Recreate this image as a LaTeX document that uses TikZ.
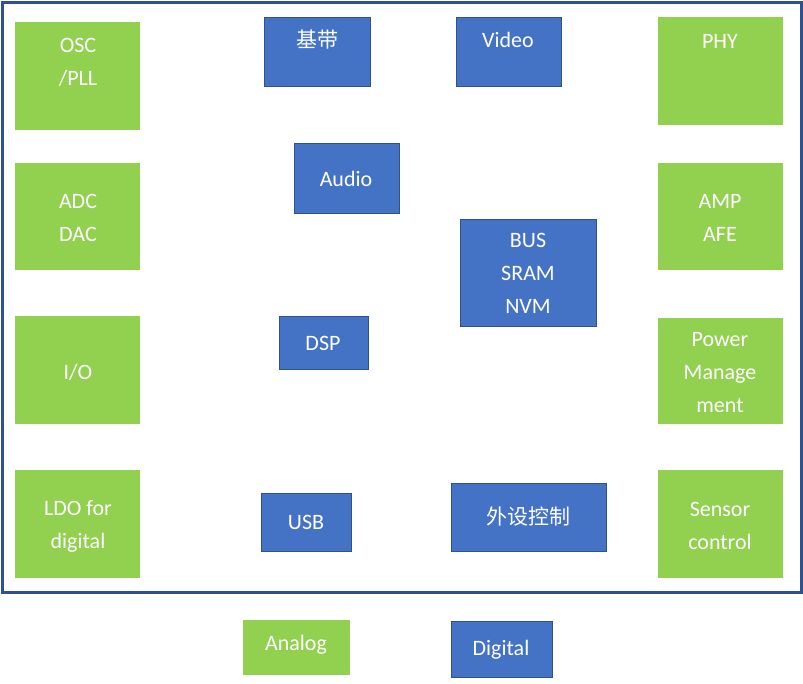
\documentclass[tikz,border=0pt]{standalone}
\usepackage{fontspec}
\setmainfont{Carlito}
\newfontfamily\cjk{Noto Sans CJK SC}
\definecolor{gr}{HTML}{92D050}
\definecolor{bl}{HTML}{4472C4}
\definecolor{bd}{HTML}{2F528F}
\begin{document}
\begin{tikzpicture}[x=1pt,y=-1pt,
  t/.style={text=white,font=\fontsize{22}{33}\selectfont,align=center},
  g/.style={fill=gr,draw=none},
  b/.style={fill=bl,draw=bd,line width=1pt}]
\useasboundingbox (0,0) rectangle (803,683);
\draw[bd,line width=3pt] (2,2) rectangle (801,592);
\newcommand{\bx}[7]{\path[#1] (#3,#4) rectangle (#5,#6); \node[t] (#2) at ({(#3+#5)/2},#7) {#2X};}
% green
\path[g] (15,22) rectangle (140,130); \node[t] (osc) at (78,62) {OSC\\/PLL};
\path[g] (15,163) rectangle (140,270); \node[t] (adc) at (78,218) {ADC\\DAC};
\path[g] (15,316) rectangle (140,424); \node[t] (io) at (78,372) {I/O};
\path[g] (15,470) rectangle (140,578); \node[t] (ldo) at (78,526) {LDO for\\digital};
\path[g] (658,17) rectangle (783,125); \node[t] (phy) at (720,41) {PHY};
\path[g] (658,163) rectangle (783,270); \node[t] (amp) at (720,218) {AMP\\AFE};
\path[g] (658,318) rectangle (783,424); \node[t] (pm) at (720,373) {Power\\Manage\\ment};
\path[g] (658,470) rectangle (783,578); \node[t] (sc) at (720,526) {Sensor\\control};
% blue
\path[b] (264,17) rectangle (370,86); \node[t,font=\cjk\fontsize{21}{30}\selectfont] (bb) at (317,40) {基带};
\path[b] (456,17) rectangle (561,86); \node[t] (vid) at (508,40) {Video};
\path[b] (294,143) rectangle (399,213); \node[t] (aud) at (346,179) {Audio};
\path[b] (460,219) rectangle (596,326); \node[t] (bus) at (528,273) {BUS\\SRAM\\NVM};
\path[b] (279,316) rectangle (368,369); \node[t] (dsp) at (323,343) {DSP};
\path[b] (261,493) rectangle (351,551); \node[t] (usb) at (306,522) {USB};
\path[b] (451,483) rectangle (606,551); \node[t,font=\cjk\fontsize{21}{30}\selectfont] (per) at (528,517) {外设控制};
% legend
\path[g] (243,620) rectangle (350,675); \node[t] (an) at (296,645) {Analog};
\path[b] (451,621) rectangle (552,677); \node[t] (dg) at (501,650) {Digital};
\end{tikzpicture}
\end{document}
